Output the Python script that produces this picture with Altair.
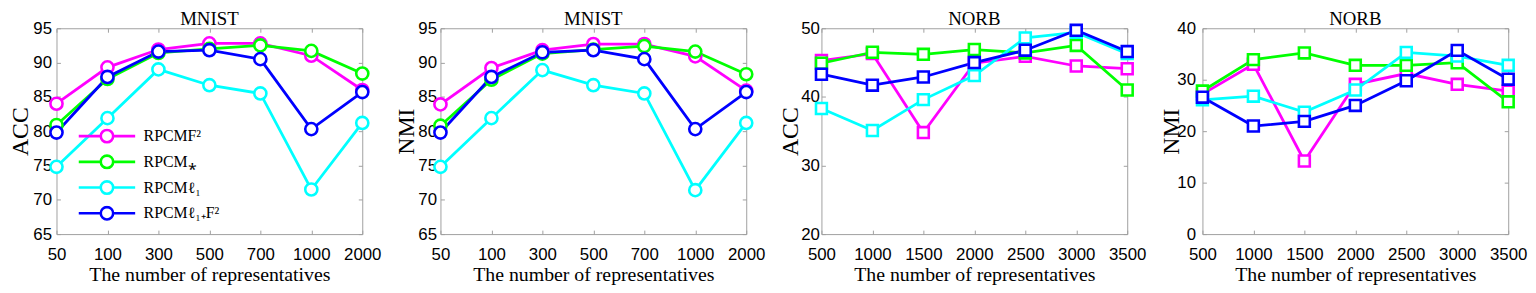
import altair as alt
import pandas as pd

# ---------------- data ----------------
series = ["RPCMF²", "RPCM⁎", "RPCMℓ₁", "RPCMℓ₁₊F²"]
colors = ["#ff00ff", "#00ff00", "#00ffff", "#0000ff"]

mnist_reps = [50, 100, 300, 500, 700, 1000, 2000]
norb_reps = [500, 1000, 1500, 2000, 2500, 3000, 3500]

mnist_acc_f2 = [84.0, 89.3, 91.9, 92.8, 92.8, 91.0, 86.0]
mnist_acc_nuc = [80.9, 87.6, 91.4, 92.0, 92.5, 91.7, 88.4]
mnist_acc_l1 = [74.8, 81.9, 89.0, 86.7, 85.5, 71.5, 81.2]
mnist_acc_l1f2 = [79.8, 87.9, 91.6, 91.8, 90.5, 80.3, 85.7]

mnist_nmi_f2 = [83.9, 89.2, 91.8, 92.7, 92.7, 90.9, 85.9]
mnist_nmi_nuc = [80.8, 87.5, 91.3, 91.9, 92.4, 91.6, 88.3]
mnist_nmi_l1 = [74.8, 81.9, 88.9, 86.7, 85.5, 71.4, 81.2]
mnist_nmi_l1f2 = [79.8, 87.9, 91.5, 91.8, 90.5, 80.3, 85.7]

norb_acc_f2 = [45.3, 46.3, 34.8, 44.9, 45.9, 44.5, 44.1]
norb_acc_nuc = [44.9, 46.5, 46.2, 46.9, 46.4, 47.5, 41.0]
norb_acc_l1 = [38.3, 35.1, 39.6, 43.1, 48.6, 49.4, 46.3]
norb_acc_l1f2 = [43.3, 41.7, 42.9, 45.0, 46.8, 49.7, 46.6]

norb_nmi_f2 = [27.2, 33.0, 14.2, 29.1, 31.2, 29.1, 27.8]
norb_nmi_nuc = [27.8, 33.9, 35.2, 32.8, 32.8, 33.3, 25.7]
norb_nmi_l1 = [26.1, 26.8, 23.7, 28.0, 35.3, 34.6, 32.8]
norb_nmi_l1f2 = [26.6, 21.0, 21.9, 25.0, 29.8, 35.7, 30.1]

mnist_yticks = [65, 70, 75, 80, 85, 90, 95]
norb_acc_yticks = [20, 30, 40, 50]
norb_nmi_yticks = [0, 10, 20, 30, 40]

# ---------------- style ----------------
W, H = 309, 208
GRAY = "#a0a0a0"
SANS = "Liberation Sans"
SERIF = "Liberation Serif"
TICK = 4

CIRCLE_PATH = ("M-1,0L-0.22,0M0.22,0L1,0"
               "M0.22,0A0.22,0.22,0,1,1,-0.22,0A0.22,0.22,0,1,1,0.22,0Z")
SQUARE_PATH = ("M-1,0L-0.19,0M0.19,0L1,0"
               "M-0.19,-0.19L0.19,-0.19L0.19,0.19L-0.19,0.19Z")


def make_panel(values, reps, ordinal, marker, title, ytitle, ydomain, yticks,
               title_x, label_pad, legend_x):
    rows = []
    for name, vals in zip(series, values):
        for r, v in zip(reps, vals):
            rows.append({"rep": r, "value": v, "method": name})
    df = pd.DataFrame(rows)

    if ordinal:
        xfield = "rep:O"
        xscale = alt.Scale(type="point", padding=0, domain=reps)
    else:
        xfield = "rep:Q"
        xscale = alt.Scale(domain=[reps[0], reps[-1]], nice=False, zero=False)
    yscale = alt.Scale(domain=ydomain, nice=False, zero=False)

    legend = alt.Legend(orient="none", legendX=legend_x, legendY=101, title=None,
                        symbolType=CIRCLE_PATH if marker == "circle" else SQUARE_PATH,
                        symbolSize=3249, symbolStrokeWidth=2.6,
                        symbolFillColor="white",
                        labelFont=SERIF, labelFontSize=16, labelColor="black",
                        clipHeight=16, rowPadding=10, labelOffset=7, padding=0)
    color = alt.Color("method:N", scale=alt.Scale(domain=series, range=colors),
                      sort=series, legend=legend)

    # grid lines dashed so that only short inward ticks show at both plot edges
    x_axis = alt.Axis(
        orient="bottom", values=reps, format="d", ticks=False, domain=False,
        grid=True, gridColor=GRAY, gridWidth=1, gridOpacity=1,
        gridDash=[TICK, H - 2 * TICK, TICK, 2000],
        labelFont=SANS, labelFontSize=17, labelColor="black", labelPadding=13,
        labelFlush=False, labelOverlap=False, labelAngle=0,
        title="The number of representatives", titleFont=SERIF, titleFontSize=20,
        titleFontWeight="normal", titleColor="black", titlePadding=2)
    y_axis = alt.Axis(
        orient="left", values=yticks, format="d", ticks=False, domain=False,
        grid=True, gridColor=GRAY, gridWidth=1, gridOpacity=1,
        gridDash=[TICK, W - 2 * TICK, TICK, 2000],
        labelFont=SANS, labelFontSize=17, labelColor="black", labelPadding=label_pad,
        labelOverlap=False, labelFlush=False,
        title=ytitle, titleFont=SERIF, titleFontSize=24, titleFontWeight="normal",
        titleColor="black", titleBaseline="alphabetic", titleX=title_x)

    x_enc = alt.X(xfield, scale=xscale, axis=x_axis)
    y_enc = alt.Y("value:Q", scale=yscale, axis=y_axis)

    base = alt.Chart(df)
    lines = base.mark_line(strokeWidth=2.8).encode(x=x_enc, y=y_enc, color=color)
    pts = base.mark_point(shape=marker, size=150 if marker == "circle" else 121,
                          filled=False, fill="white", strokeWidth=2.6, opacity=1).encode(
        x=x_enc, y=y_enc, color=color)

    return alt.layer(lines, pts).properties(
        width=W, height=H,
        title=alt.TitleParams(title, font=SERIF, fontSize=19, fontWeight="normal",
                              color="black", frame="group", offset=-10))


p1 = make_panel([mnist_acc_f2, mnist_acc_nuc, mnist_acc_l1, mnist_acc_l1f2],
                mnist_reps, True, "circle", "MNIST", "ACC", [65, 95], mnist_yticks,
                -29, 5, 21)
p2 = make_panel([mnist_nmi_f2, mnist_nmi_nuc, mnist_nmi_l1, mnist_nmi_l1f2],
                mnist_reps, True, "circle", "MNIST", "NMI", [65, 95], mnist_yticks,
                -27, 4, 20)
p3 = make_panel([norb_acc_f2, norb_acc_nuc, norb_acc_l1, norb_acc_l1f2],
                norb_reps, False, "square", "NORB", "ACC", [20, 50], norb_acc_yticks,
                -24, 2, 130)
p4 = make_panel([norb_nmi_f2, norb_nmi_nuc, norb_nmi_l1, norb_nmi_l1f2],
                norb_reps, False, "square", "NORB", "NMI", [0, 40], norb_nmi_yticks,
                -24, 7, 130)

chart = alt.hconcat(p1, p2, p3, p4, spacing=12).properties(
    padding={"left": 0, "top": 0, "right": 0, "bottom": 0},
    background="white",
).configure_view(stroke=GRAY, strokeWidth=1)

chart.save("out.html", embed_options={"renderer": "svg", "actions": False})
